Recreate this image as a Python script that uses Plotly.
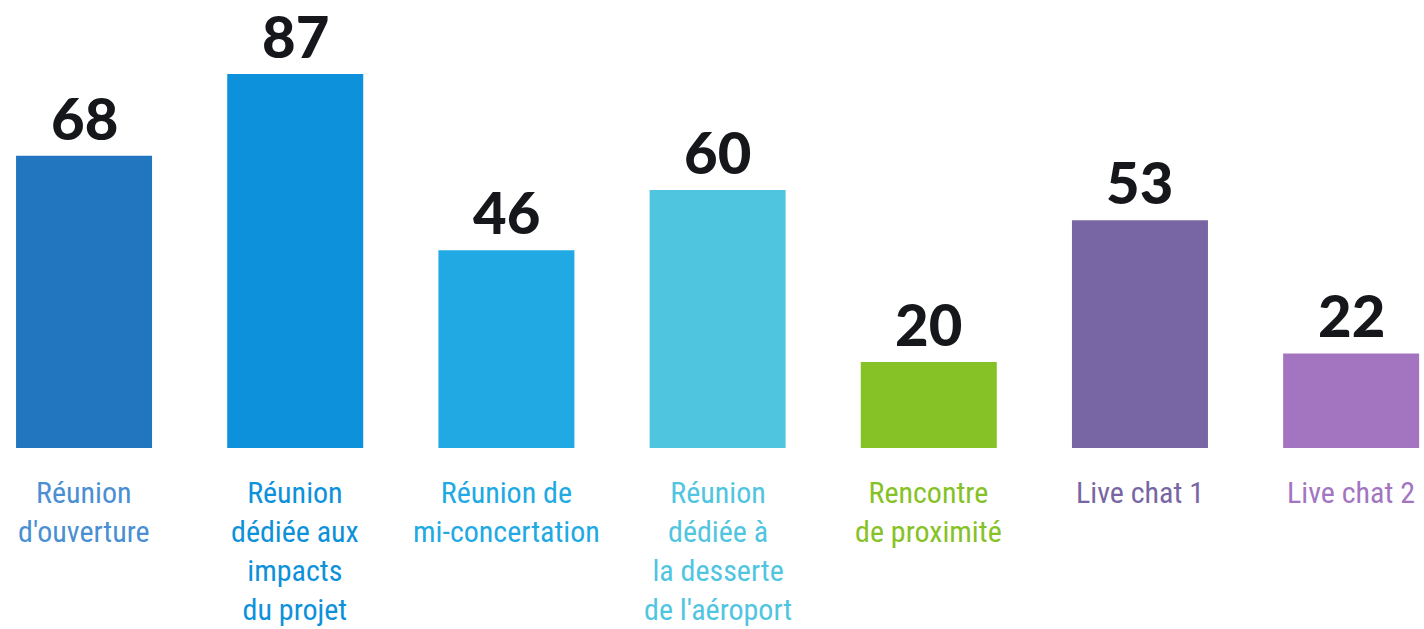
import plotly.graph_objects as go

categories = [
    "Réunion<br>d'ouverture",
    "Réunion<br>dédiée aux<br>impacts<br>du projet",
    "Réunion de<br>mi-concertation",
    "Réunion<br>dédiée à<br>la desserte<br>de l'aéroport",
    "Rencontre<br>de proximité",
    "Live chat 1",
    "Live chat 2",
]
values = [68, 87, 46, 60, 20, 53, 22]
colors = ["#2176bf", "#0d91da", "#20a9e3", "#50c5df", "#86c225", "#7766a3", "#a375c0"]
label_colors = ["#4a8fd3", "#0d91da", "#20a9e3", "#50c5df", "#86c225", "#7766a3", "#a375c0"]

fig = go.Figure()
fig.add_trace(go.Bar(
    x=categories, y=values,
    marker=dict(color=colors, line=dict(width=0)),
    width=0.644,
    hoverinfo="skip",
))

for c, v, lc in zip(categories, values, label_colors):
    fig.add_annotation(
        x=c, y=v, text=str(v), showarrow=False, yanchor="bottom", yshift=3,
        borderpad=0,
        font=dict(family="Lato Black, Lato", size=58, color="#16171b", weight=900),
    )
    fig.add_annotation(
        x=c, y=0, text=c, showarrow=False, yanchor="top", yshift=-25,
        font=dict(family="Roboto Condensed, Roboto", size=30, color=lc),
    )

fig.update_layout(
    width=1424, height=629,
    margin=dict(l=0, r=0, t=0, b=181),
    plot_bgcolor="white", paper_bgcolor="white",
    showlegend=False,
    xaxis=dict(range=[-0.398, 6.345], showticklabels=False, showgrid=False, zeroline=False, showline=False, ticks=""),
    yaxis=dict(range=[0, 104.2], showticklabels=False, showgrid=False, zeroline=False, showline=False, ticks=""),
)

fig.write_html("out.html")
